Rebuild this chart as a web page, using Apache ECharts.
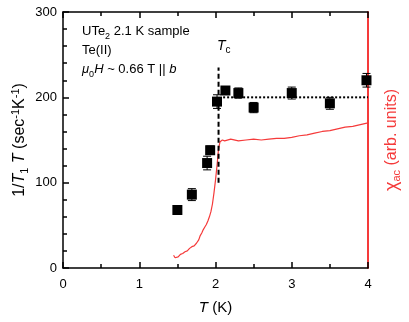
<!DOCTYPE html>
<html>
<head>
<meta charset="utf-8">
<script src="https://cdn.jsdelivr.net/npm/echarts@6/dist/echarts.min.js"></script>
<style>
  html, body { margin: 0; padding: 0; background: #fff; }
  #main { width: 409px; height: 322px; }
</style>
</head>
<body>
<div id="main"></div>
<script>
// 1/T1T data (left axis)
var tempT = [1.50, 1.69, 1.89, 1.93, 2.02, 2.13, 2.30, 2.50, 3.00, 3.50, 3.98];
var rate  = [68, 86, 123, 138, 195, 208, 205, 188, 205, 193, 220];
var rateErr = [4, 7, 8, 5, 8, 4, 6, 6, 7, 7, 8];

// chi_ac trace (right axis, arb. units)
var chiT = [1.45, 1.47, 1.49, 1.51, 1.54, 1.57, 1.60, 1.63, 1.66, 1.69, 1.72, 1.75, 1.78, 1.80,
            1.82, 1.84, 1.86, 1.88, 1.90, 1.92, 1.94, 1.96, 1.98, 2.00, 2.02, 2.04, 2.06, 2.09,
            2.12, 2.20, 2.30, 2.40, 2.50, 2.60, 2.70, 2.80, 2.90, 3.00, 3.10, 3.20, 3.30, 3.40,
            3.50, 3.60, 3.70, 3.80, 3.90, 4.00];
var chi  = [15, 12, 14, 13, 16, 17, 19, 20, 23, 25, 26, 29, 33, 38,
            41, 45, 48, 51, 55, 60, 66, 75, 88, 103, 120, 140, 148, 150,
            149, 151, 149, 150, 151, 150, 151, 152, 152, 153, 155, 156, 158, 160,
            161, 163, 165, 166, 168, 170];

// guide lines
var tcLine = [[2.04, 100], [2.04, 235]];
var plateau = [[2.10, 200], [4.00, 200]];

var FONT = 'Liberation Sans, Arial, sans-serif';
var RED = '#f53a3a';

var chart = echarts.init(document.getElementById('main'));

var points = tempT.map(function (t, i) { return [t, rate[i], rateErr[i]]; });
var chiData = chiT.map(function (t, i) { return [t, chi[i]]; });

var option = {
    animation: false,
    textStyle: { fontFamily: FONT },
    grid: { left: 63, right: 41, top: 12, bottom: 54, containLabel: false, outerBoundsMode: 'none' },
    xAxis: [{
        type: 'value', min: 0, max: 4, interval: 1, position: 'bottom',
        axisLine: { onZero: false, lineStyle: { color: '#000', width: 1.5 } },
        axisTick: { inside: true, length: 6, lineStyle: { color: '#000', width: 1.5 } },
        minorTick: { show: true, splitNumber: 2, length: 4, lineStyle: { color: '#000', width: 1.5 } },
        axisLabel: { color: '#000', fontSize: 13, fontFamily: FONT, margin: 10 },
        splitLine: { show: false },
        name: '{i|T} (K)',
        nameLocation: 'middle', nameGap: 32,
        nameTextStyle: { color: '#000', fontSize: 15, fontFamily: FONT,
            rich: { i: { fontStyle: 'italic', fontSize: 15, fontFamily: FONT } } }
    }, {
        type: 'value', min: 0, max: 4, interval: 1, position: 'top',
        axisLine: { show: true, onZero: false, lineStyle: { color: '#000', width: 1.5 } },
        axisTick: { inside: true, length: 6, lineStyle: { color: '#000', width: 1.5 } },
        minorTick: { show: true, splitNumber: 2, length: 4, lineStyle: { color: '#000', width: 1.5 } },
        axisLabel: { show: false },
        splitLine: { show: false }
    }],
    yAxis: [{
        type: 'value', min: 0, max: 300, interval: 100, position: 'left',
        axisLine: { show: true, onZero: false, lineStyle: { color: '#000', width: 1.5 } },
        axisTick: { inside: true, length: 6, lineStyle: { color: '#000', width: 1.5 } },
        minorTick: { show: true, splitNumber: 5, length: 4, lineStyle: { color: '#000', width: 1.5 } },
        axisLabel: { color: '#000', fontSize: 13, fontFamily: FONT, margin: 6 },
        splitLine: { show: false },
        name: '1/{i|T}{sub|1} {i|T} (sec{sup|-1}K{sup|-1})',
        nameLocation: 'middle', nameGap: 33, nameRotate: 90, nameMoveOverlap: false,
        nameTextStyle: { color: '#000', fontSize: 16, fontFamily: FONT, lineHeight: 20,
            rich: {
                i: { fontStyle: 'italic', fontSize: 16, fontFamily: FONT, lineHeight: 20 },
                sub: { fontSize: 11, fontFamily: FONT, verticalAlign: 'bottom', lineHeight: 20, padding: [6, 0, 0, 0] },
                sup: { fontSize: 11, fontFamily: FONT, verticalAlign: 'top', lineHeight: 20, padding: [0, 0, 6, 0] }
            } }
    }, {
        type: 'value', min: 0, max: 300, position: 'right',
        axisLine: { show: true, onZero: false, lineStyle: { color: RED, width: 2 } },
        axisTick: { show: false },
        axisLabel: { show: false },
        splitLine: { show: false },
        name: '{c|χ}{sub|ac} (arb. units)',
        nameLocation: 'middle', nameGap: 14, nameRotate: 90,
        nameTextStyle: { color: RED, fontSize: 16, fontFamily: FONT, lineHeight: 20,
            rich: {
                c: { color: RED, fontSize: 18, fontFamily: FONT, lineHeight: 20 },
                sub: { color: RED, fontSize: 11, fontFamily: FONT, verticalAlign: 'bottom', lineHeight: 20, padding: [6, 0, 0, 0] }
            } }
    }],
    series: [{
        name: 'chi',
        type: 'line', yAxisIndex: 1, data: chiData,
        showSymbol: false, symbol: 'none',
        lineStyle: { color: RED, width: 1.2 }, z: 2
    }, {
        name: 'tc',
        type: 'line', data: tcLine, symbol: 'none',
        lineStyle: { color: '#000', width: 2, type: [5, 3] }, z: 3
    }, {
        name: 'plateau',
        type: 'line', data: plateau, symbol: 'none',
        lineStyle: { color: '#000', width: 2, type: [2, 2] }, z: 3
    }, {
        name: 'err',
        type: 'custom', data: points, z: 4,
        renderItem: function (params, api) {
            var x = api.value(0), y = api.value(1), e = api.value(2);
            var hi = api.coord([x, y + e]);
            var lo = api.coord([x, y - e]);
            var w = 4;
            var st = { stroke: '#000', lineWidth: 1 };
            return {
                type: 'group',
                children: [
                    { type: 'line', shape: { x1: hi[0], y1: hi[1], x2: lo[0], y2: lo[1] }, style: st },
                    { type: 'line', shape: { x1: hi[0] - w, y1: hi[1], x2: hi[0] + w, y2: hi[1] }, style: st },
                    { type: 'line', shape: { x1: lo[0] - w, y1: lo[1], x2: lo[0] + w, y2: lo[1] }, style: st }
                ]
            };
        }
    }, {
        name: 'rate',
        type: 'scatter', data: points, symbol: 'rect', symbolSize: 10,
        itemStyle: { color: '#000', opacity: 1 }, z: 5
    }],
    graphic: [{
        type: 'text', left: 82, top: 22,
        style: {
            text: 'UTe{sub|2} 2.1 K sample\nTe(II)\n{i|μ}{sub|0}{i|H} ~ 0.66 T || {i|b}',
            fontSize: 13, fontFamily: FONT, fill: '#000', lineHeight: 19,
            rich: {
                i: { fontStyle: 'italic', fontSize: 13, fontFamily: FONT, lineHeight: 19 },
                sub: { fontSize: 9, fontFamily: FONT, verticalAlign: 'bottom', lineHeight: 19, padding: [5, 0, 0, 0] }
            }
        }
    }, {
        type: 'text', left: 217, top: 39,
        style: {
            text: '{i|T}{sub|c}',
            fontSize: 14, fontFamily: FONT, fill: '#000',
            rich: {
                i: { fontStyle: 'italic', fontSize: 14, fontFamily: FONT, lineHeight: 18 },
                sub: { fontSize: 10, fontFamily: FONT, verticalAlign: 'bottom', lineHeight: 18, padding: [6, 0, 0, 0] }
            }
        }
    }]
};

chart.setOption(option);
</script>
</body>
</html>
